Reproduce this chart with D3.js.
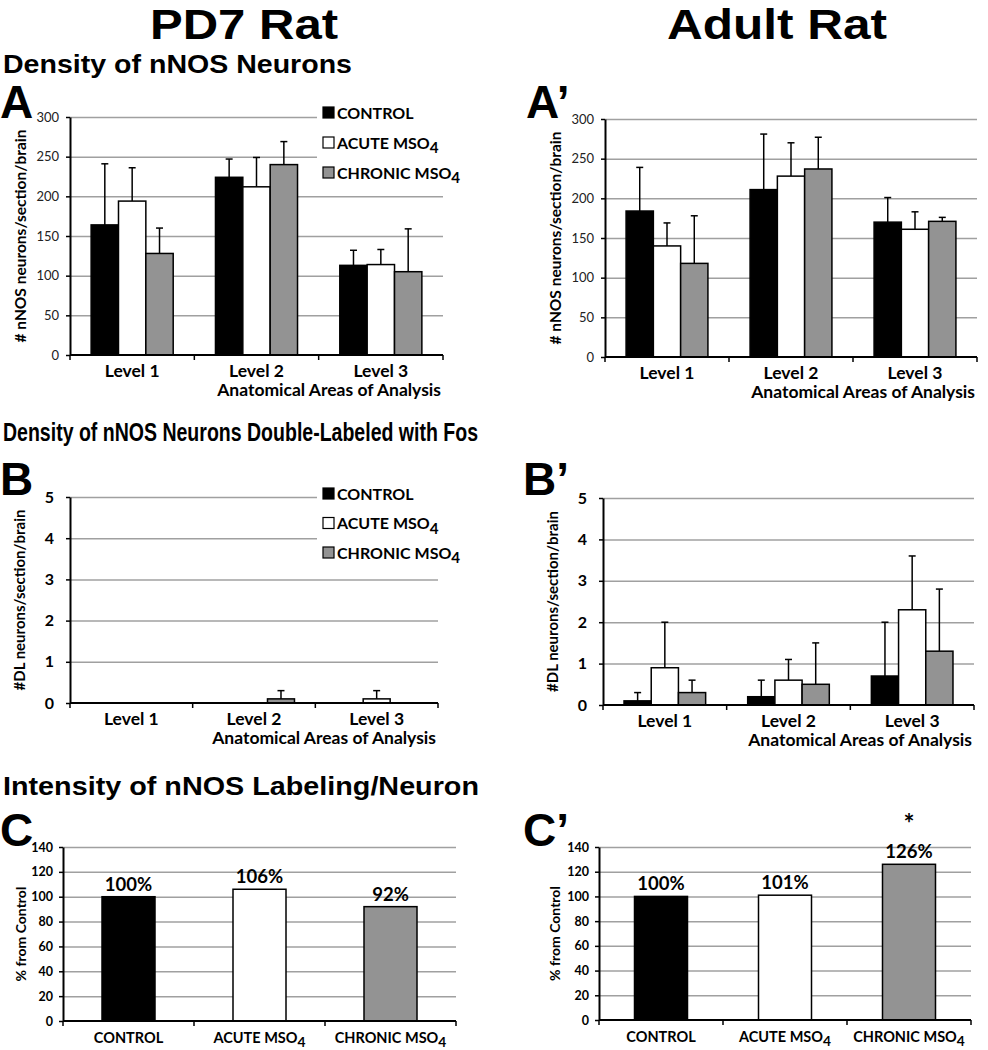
<!DOCTYPE html>
<html><head><meta charset="utf-8">
<script src="https://cdn.jsdelivr.net/npm/d3@7"></script>
<style>
body{margin:0;background:#fff;}
svg{display:block;}
</style></head>
<body>
<svg id="chart" width="988" height="1050"></svg>
<script>
// ---------- DATA ----------
const levels = ["Level 1", "Level 2", "Level 3"];
const groups = ["CONTROL", "ACUTE MSO4", "CHRONIC MSO4"];
const fills = ["#000000", "#ffffff", "#939393"];

// Panel A: PD7 density of nNOS neurons (mean, upper error)
const pd7DensityControl = [164, 224, 113];
const pd7DensityAcute = [194, 212, 114];
const pd7DensityChronic = [128, 240, 105];
const pd7DensityControlErr = [77, 23, 19];
const pd7DensityAcuteErr = [42, 37, 19];
const pd7DensityChronicErr = [32, 29, 54];

// Panel A': Adult density
const adultDensityControl = [184, 211, 170];
const adultDensityAcute = [140, 228, 161];
const adultDensityChronic = [118, 237, 171];
const adultDensityControlErr = [55, 70, 31];
const adultDensityAcuteErr = [29, 42, 22];
const adultDensityChronicErr = [60, 40, 5];

// Panel B: PD7 double-labeled
const pd7DLControl = [0, 0, 0];
const pd7DLAcute = [0, 0, 0.1];
const pd7DLChronic = [0, 0.1, 0];
const pd7DLControlErr = [0, 0, 0];
const pd7DLAcuteErr = [0, 0, 0.2];
const pd7DLChronicErr = [0, 0.2, 0];

// Panel B': Adult double-labeled
const adultDLControl = [0.1, 0.2, 0.7];
const adultDLAcute = [0.9, 0.6, 2.3];
const adultDLChronic = [0.3, 0.5, 1.3];
const adultDLControlErr = [0.2, 0.4, 1.3];
const adultDLAcuteErr = [1.1, 0.5, 1.3];
const adultDLChronicErr = [0.3, 1.0, 1.5];

// Panels C, C': intensity (% from control)
const pd7Intensity = [100, 106, 92];
const adultIntensity = [100, 101, 126];
const adultIntensityStars = ["", "", "*"];

const densityTicks = [0, 50, 100, 150, 200, 250, 300];
const dlTicks = [0, 1, 2, 3, 4, 5];
const intensityTicks = [0, 20, 40, 60, 80, 100, 120, 140];

// ---------- DRAW ----------
const svg = d3.select("#chart");
const ARIAL = "'Liberation Sans', Arial, sans-serif";
const CAL = "Lato, 'Open Sans', sans-serif";
const GRID = "#a0a0a0";
const fmtInt = d3.format("d");

function addSubLabel(sel, label, size) {
  if (/MSO4$/.test(label)) {
    sel.text(null);
    sel.append("tspan").text(label.slice(0, -1));
    sel.append("tspan").attr("dy", size * 0.3).attr("font-size", size * 0.95).text("4");
  } else sel.text(label);
}

function bigText(txt, x, y, size, anchor, width) {
  const t = svg.append("text").attr("x", x).attr("y", y)
    .attr("font-family", ARIAL).attr("font-weight", "bold")
    .attr("font-size", size).attr("text-anchor", anchor || "start").text(txt);
  if (width) t.attr("textLength", width).attr("lengthAdjust", "spacingAndGlyphs");
  return t;
}

// Titles
bigText("PD7 Rat", 244, 39, 43, "middle", 188);
bigText("Adult Rat", 777, 39, 43, "middle", 220);
bigText("Density of nNOS Neurons", 3, 73, 26, "start", 349);
bigText("Density of nNOS Neurons Double-Labeled with Fos", 3, 441, 26, "start", 475);
bigText("Intensity of nNOS Labeling/Neuron", 3, 795, 26, "start", 476);
bigText("A", 0, 118, 46);
bigText("A\u2019", 526, 118, 46);
bigText("B", 0, 495, 46);
bigText("B\u2019", 523, 495, 46);
bigText("C", 0, 846, 46);
bigText("C\u2019", 523, 846, 46);

function groupedPanel(cfg) {
  const g = svg.append("g");
  const y = d3.scaleLinear().domain([0, cfg.yMax]).range([cfg.bottom, cfg.top]);
  const x0 = d3.scaleBand().domain(levels).range([cfg.left, cfg.right]).padding(0);
  const gw = x0.bandwidth() * 0.66;
  const x1 = d3.scaleBand().domain(groups).range([0, gw]).padding(0);

  g.append("g").attr("transform", `translate(${cfg.left},0)`)
    .call(d3.axisLeft(y).tickValues(cfg.ticks.slice(1)).tickSize(-(cfg.right - cfg.left)).tickFormat(""))
    .call(s => s.select(".domain").remove())
    .call(s => s.selectAll("line").attr("stroke", GRID).attr("stroke-width", 1.5));

  if (cfg.legend) {
    g.append("rect").attr("x", cfg.legend.x - 6).attr("y", cfg.legend.y - 16)
      .attr("width", 160).attr("height", 88).attr("fill", "#fff");
  }

  const series = cfg.series;
  const errs = cfg.errs;
  const rows = [];
  levels.forEach((lv, i) => groups.forEach((gr, j) => rows.push({lv, gr, j, v: series[j][i], e: errs[j][i]})));
  const bx = d => x0(d.lv) + (x0.bandwidth() - gw) / 2 + x1(d.gr);

  const eb = g.selectAll(".eb").data(rows.filter(d => d.e > 0)).join("g");
  eb.append("line")
    .attr("x1", d => bx(d) + x1.bandwidth() / 2).attr("x2", d => bx(d) + x1.bandwidth() / 2)
    .attr("y1", d => y(d.v)).attr("y2", d => y(d.v + d.e))
    .attr("stroke", "#000").attr("stroke-width", 1.5);
  eb.append("line")
    .attr("x1", d => bx(d) + x1.bandwidth() / 2 - 3.5).attr("x2", d => bx(d) + x1.bandwidth() / 2 + 3.5)
    .attr("y1", d => y(d.v + d.e)).attr("y2", d => y(d.v + d.e))
    .attr("stroke", "#000").attr("stroke-width", 1.5);

  g.selectAll(".bar").data(rows).join("rect")
    .attr("x", d => bx(d)).attr("width", x1.bandwidth())
    .attr("y", d => y(d.v)).attr("height", d => cfg.bottom - y(d.v))
    .attr("fill", d => fills[d.j]).attr("stroke", "#000").attr("stroke-width", 1.5);

  g.append("g").attr("transform", `translate(${cfg.left},0)`)
    .call(d3.axisLeft(y).tickValues(cfg.ticks).tickFormat(fmtInt).tickSize(4).tickPadding(cfg.tickPad || 7).tickSizeOuter(0))
    .call(s => s.select(".domain").attr("stroke-width", 2))
    .call(s => s.selectAll("line").attr("stroke-width", 1.5))
    .call(s => s.selectAll("text").attr("font-family", CAL).attr("font-size", cfg.tickSize)
      .attr("font-weight", cfg.tickWeight).attr("fill", cfg.tickColor || "#000"));

  g.append("line").attr("x1", cfg.left).attr("x2", cfg.right).attr("y1", cfg.bottom).attr("y2", cfg.bottom)
    .attr("stroke", "#000").attr("stroke-width", 2);
  const bounds = levels.map(l => x0(l)).concat([x0(levels[levels.length - 1]) + x0.bandwidth()]);
  g.selectAll(".xt").data(bounds).join("line")
    .attr("x1", d => d).attr("x2", d => d).attr("y1", cfg.bottom).attr("y2", cfg.bottom + 5)
    .attr("stroke", "#000").attr("stroke-width", 1.5);
  g.append("g").attr("transform", `translate(0,${cfg.bottom})`)
    .call(d3.axisBottom(x0).tickSize(0).tickPadding(0))
    .call(s => s.select(".domain").remove())
    .call(s => s.selectAll("text").attr("dy", null).attr("y", 22)
      .attr("font-family", CAL).attr("font-size", 17.5).attr("font-weight", "bold").attr("fill", "#000"));
  g.append("text").attr("x", cfg.right - 2).attr("y", cfg.bottom + 41).attr("text-anchor", "end")
    .attr("font-family", CAL).attr("font-size", 17.5).attr("font-weight", "bold")
    .text("Anatomical Areas of Analysis");

  g.append("text").attr("transform", `translate(${cfg.titleX},${(cfg.top + cfg.bottom) / 2}) rotate(-90)`)
    .attr("text-anchor", "middle").attr("font-family", CAL).attr("font-size", cfg.titleSize)
    .attr("font-weight", "bold").text(cfg.title);

  if (cfg.legend) {
    const lg = g.selectAll(".lg").data(groups).join("g")
      .attr("transform", (d, i) => `translate(${cfg.legend.x},${cfg.legend.y + i * cfg.legend.dy})`);
    lg.append("rect").attr("x", 0).attr("y", -6).attr("width", 11).attr("height", 11)
      .attr("fill", (d, i) => fills[i]).attr("stroke", "#000").attr("stroke-width", 1.2);
    lg.append("text").attr("x", 14).attr("y", 5.5).attr("font-family", CAL).attr("font-size", 16)
      .attr("font-weight", "bold").each(function (d) { addSubLabel(d3.select(this), d, 16); });
  }
}

groupedPanel({
  left: 70, right: 443, top: 117, bottom: 355, yMax: 300, ticks: densityTicks,
  series: [pd7DensityControl, pd7DensityAcute, pd7DensityChronic],
  errs: [pd7DensityControlErr, pd7DensityAcuteErr, pd7DensityChronicErr],
  tickSize: 13, tickWeight: "normal", tickColor: "#222",
  title: "# nNOS neurons/section/brain", titleX: 26, titleSize: 15.5,
  legend: {x: 323, y: 113, dy: 30}
});
groupedPanel({
  left: 605, right: 977, top: 119, bottom: 357, yMax: 300, ticks: densityTicks,
  series: [adultDensityControl, adultDensityAcute, adultDensityChronic],
  errs: [adultDensityControlErr, adultDensityAcuteErr, adultDensityChronicErr],
  tickSize: 13, tickWeight: "normal", tickColor: "#222",
  title: "# nNOS neurons/section/brain", titleX: 561, titleSize: 15.5
});
groupedPanel({
  left: 70, right: 438, top: 497, bottom: 703, yMax: 5, ticks: dlTicks,
  series: [pd7DLControl, pd7DLAcute, pd7DLChronic],
  errs: [pd7DLControlErr, pd7DLAcuteErr, pd7DLChronicErr],
  tickSize: 16, tickWeight: "bold", tickPad: 12,
  title: "#DL neurons/section/brain", titleX: 25, titleSize: 15,
  legend: {x: 323, y: 494, dy: 29.5}
});
groupedPanel({
  left: 603, right: 974, top: 498, bottom: 705, yMax: 5, ticks: dlTicks,
  series: [adultDLControl, adultDLAcute, adultDLChronic],
  errs: [adultDLControlErr, adultDLAcuteErr, adultDLChronicErr],
  tickSize: 16, tickWeight: "bold", tickPad: 12,
  title: "#DL neurons/section/brain", titleX: 558, titleSize: 15
});

function intensityPanel(cfg) {
  const g = svg.append("g");
  const y = d3.scaleLinear().domain([0, 140]).range([cfg.bottom, cfg.top]);
  const x = d3.scaleBand().domain(groups).range([cfg.left, cfg.right]).padding(0);
  const bw = 53;

  g.append("g").attr("transform", `translate(${cfg.left},0)`)
    .call(d3.axisLeft(y).tickValues(intensityTicks.slice(1)).tickSize(-(cfg.right - cfg.left)).tickFormat(""))
    .call(s => s.select(".domain").remove())
    .call(s => s.selectAll("line").attr("stroke", GRID).attr("stroke-width", 1.5));

  const rows = groups.map((gr, j) => ({gr, j, v: cfg.values[j], star: cfg.stars ? cfg.stars[j] : ""}));
  g.selectAll(".bar").data(rows).join("rect")
    .attr("x", d => x(d.gr) + (x.bandwidth() - bw) / 2).attr("width", bw)
    .attr("y", d => y(d.v)).attr("height", d => cfg.bottom - y(d.v))
    .attr("fill", d => fills[d.j]).attr("stroke", "#000").attr("stroke-width", 1.5);
  g.selectAll(".vl").data(rows).join("text")
    .attr("x", d => x(d.gr) + x.bandwidth() / 2).attr("y", d => y(d.v) - 6)
    .attr("text-anchor", "middle").attr("font-family", CAL).attr("font-size", 18.5).attr("font-weight", "bold")
    .text(d => d.v + "%");
  g.selectAll(".st").data(rows.filter(d => d.star)).join("text")
    .attr("x", d => x(d.gr) + x.bandwidth() / 2).attr("y", d => y(d.v) - 31)
    .attr("text-anchor", "middle").attr("font-family", CAL).attr("font-size", 26).attr("font-weight", "bold")
    .text(d => d.star);

  g.append("g").attr("transform", `translate(${cfg.left},0)`)
    .call(d3.axisLeft(y).tickValues(intensityTicks).tickSize(4).tickPadding(6).tickSizeOuter(0))
    .call(s => s.select(".domain").attr("stroke-width", 2))
    .call(s => s.selectAll("line").attr("stroke-width", 1.5))
    .call(s => s.selectAll("text").attr("font-family", CAL).attr("font-size", 12.5)
      .attr("font-weight", "bold").attr("fill", "#000"));

  g.append("line").attr("x1", cfg.left).attr("x2", cfg.right).attr("y1", cfg.bottom).attr("y2", cfg.bottom)
    .attr("stroke", "#000").attr("stroke-width", 2);
  const bounds = groups.map(l => x(l)).concat([x(groups[groups.length - 1]) + x.bandwidth()]);
  g.selectAll(".xt").data(bounds).join("line")
    .attr("x1", d => d).attr("x2", d => d).attr("y1", cfg.bottom).attr("y2", cfg.bottom + 5)
    .attr("stroke", "#000").attr("stroke-width", 1.5);
  g.append("g").attr("transform", `translate(0,${cfg.bottom})`)
    .call(d3.axisBottom(x).tickSize(0).tickPadding(0))
    .call(s => s.select(".domain").remove())
    .call(s => s.selectAll("text").attr("dy", null).attr("y", 22)
      .attr("font-family", CAL).attr("font-size", 14.5).attr("font-weight", "bold").attr("fill", "#000")
      .each(function (d) { addSubLabel(d3.select(this), d, 14.5); }));

  g.append("text").attr("transform", `translate(${cfg.titleX},${(cfg.top + cfg.bottom) / 2}) rotate(-90)`)
    .attr("text-anchor", "middle").attr("font-family", CAL).attr("font-size", 14)
    .attr("font-weight", "bold").text("% from Control");
}

intensityPanel({left: 63, right: 456, top: 847, bottom: 1021, values: pd7Intensity, titleX: 26});
intensityPanel({left: 599, right: 971, top: 847, bottom: 1020, values: adultIntensity, stars: adultIntensityStars, titleX: 560});
</script>
</body></html>
